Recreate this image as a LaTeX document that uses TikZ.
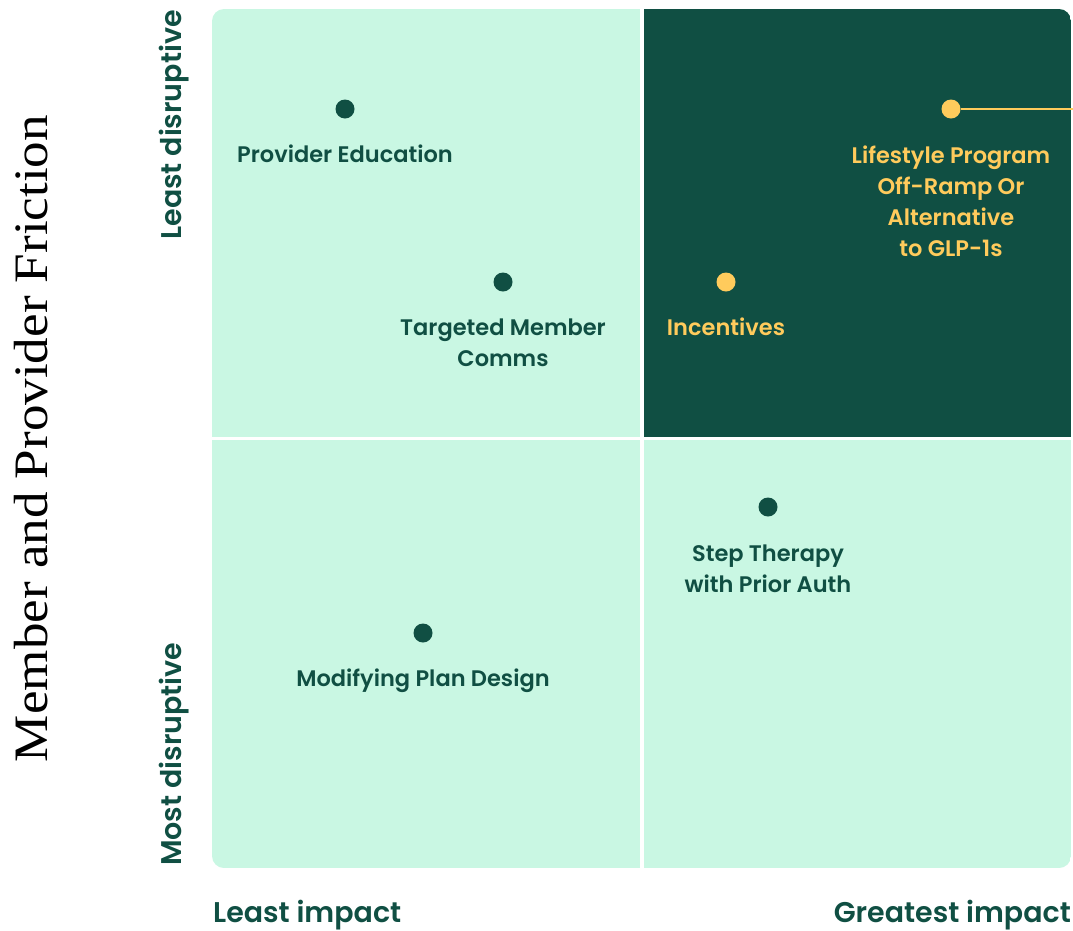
\documentclass[tikz,border=0pt]{standalone}
\usepackage{fontspec}
\usepackage{graphicx}
\setmainfont{Liberation Serif}
\newfontfamily\labelfont{Poppins SemiBold}

\definecolor{mint}{HTML}{C9F7E3}
\definecolor{forest}{HTML}{104F43}
\definecolor{sun}{HTML}{FFCB5C}

\tikzset{
  quadtext/.style={font=\labelfont\fontsize{22.5}{31}\selectfont, text=forest, align=center, inner sep=0pt},
  hightext/.style={quadtext, text=sun},
  axistext/.style={font=\labelfont\fontsize{28.5}{32}\selectfont, text=forest, inner sep=0pt},
  marker/.style={circle, fill=forest, minimum size=19pt, inner sep=0pt},
  hotmarker/.style={marker, fill=sun},
}

\begin{document}
\begin{tikzpicture}[x=1pt, y=-1pt]
  \useasboundingbox (0,0) rectangle (1073,930);

  % quadrant panel
  \begin{scope}
    \clip[rounded corners=12pt] (212,9) rectangle (1071,868);
    \fill[mint] (212,9) rectangle (1071,868);
    \fill[forest] (642,9) rectangle (1071,438.5);
    \draw[white, line width=3.5pt] (642,9) -- (642,868);
    \draw[white, line width=3.5pt] (212,438.5) -- (1071,438.5);
  \end{scope}

  % upper left quadrant (multi-line labels are anchored on their last baseline)
  \node[marker] (edu) at (345,109) {};
  \node[quadtext, anchor=base] (edutxt) at (345,162) {Provider Education};
  \node[marker] (comms) at (503,282) {};
  \node[quadtext, anchor=base] (commstxt) at (503,366) {Targeted Member\\Comms};

  % upper right quadrant
  \node[hotmarker] (inc) at (726,282) {};
  \node[hightext, anchor=base] (inctxt) at (726,335) {Incentives};
  \node[hotmarker] (life) at (951,109) {};
  \coordinate (lifeout) at (1073,109);
  \draw[sun, line width=2pt] (life) -- (lifeout);
  \node[hightext, anchor=base] (lifetxt) at (951,256) {Lifestyle Program\\Off-Ramp Or\\Alternative\\to GLP-1s};

  % lower right quadrant
  \node[marker] (step) at (768,507) {};
  \node[quadtext, anchor=base] (steptxt) at (768,592) {Step Therapy\\with Prior Auth};

  % lower left quadrant
  \node[marker] (plan) at (423,633) {};
  \node[quadtext, anchor=base] (plantxt) at (423,686) {Modifying Plan Design};

  % axis labels
  \node[axistext, rotate=90, anchor=base east] (leastdis) at (181,10) {Least disruptive};
  \node[axistext, rotate=90, anchor=base west] (mostdis) at (181,866) {Most disruptive};
  \node[axistext, anchor=base west] (leastimp) at (213,922) {Least impact};
  \node[axistext, anchor=base east] (greatimp) at (1071,922) {Greatest impact};

  \node[rotate=90, anchor=base, inner sep=0pt, text=black] (friction) at (47,438.5)
    {\resizebox{647pt}{\height}{\fontsize{48}{52}\selectfont Member and Provider Friction}};
\end{tikzpicture}
\end{document}
